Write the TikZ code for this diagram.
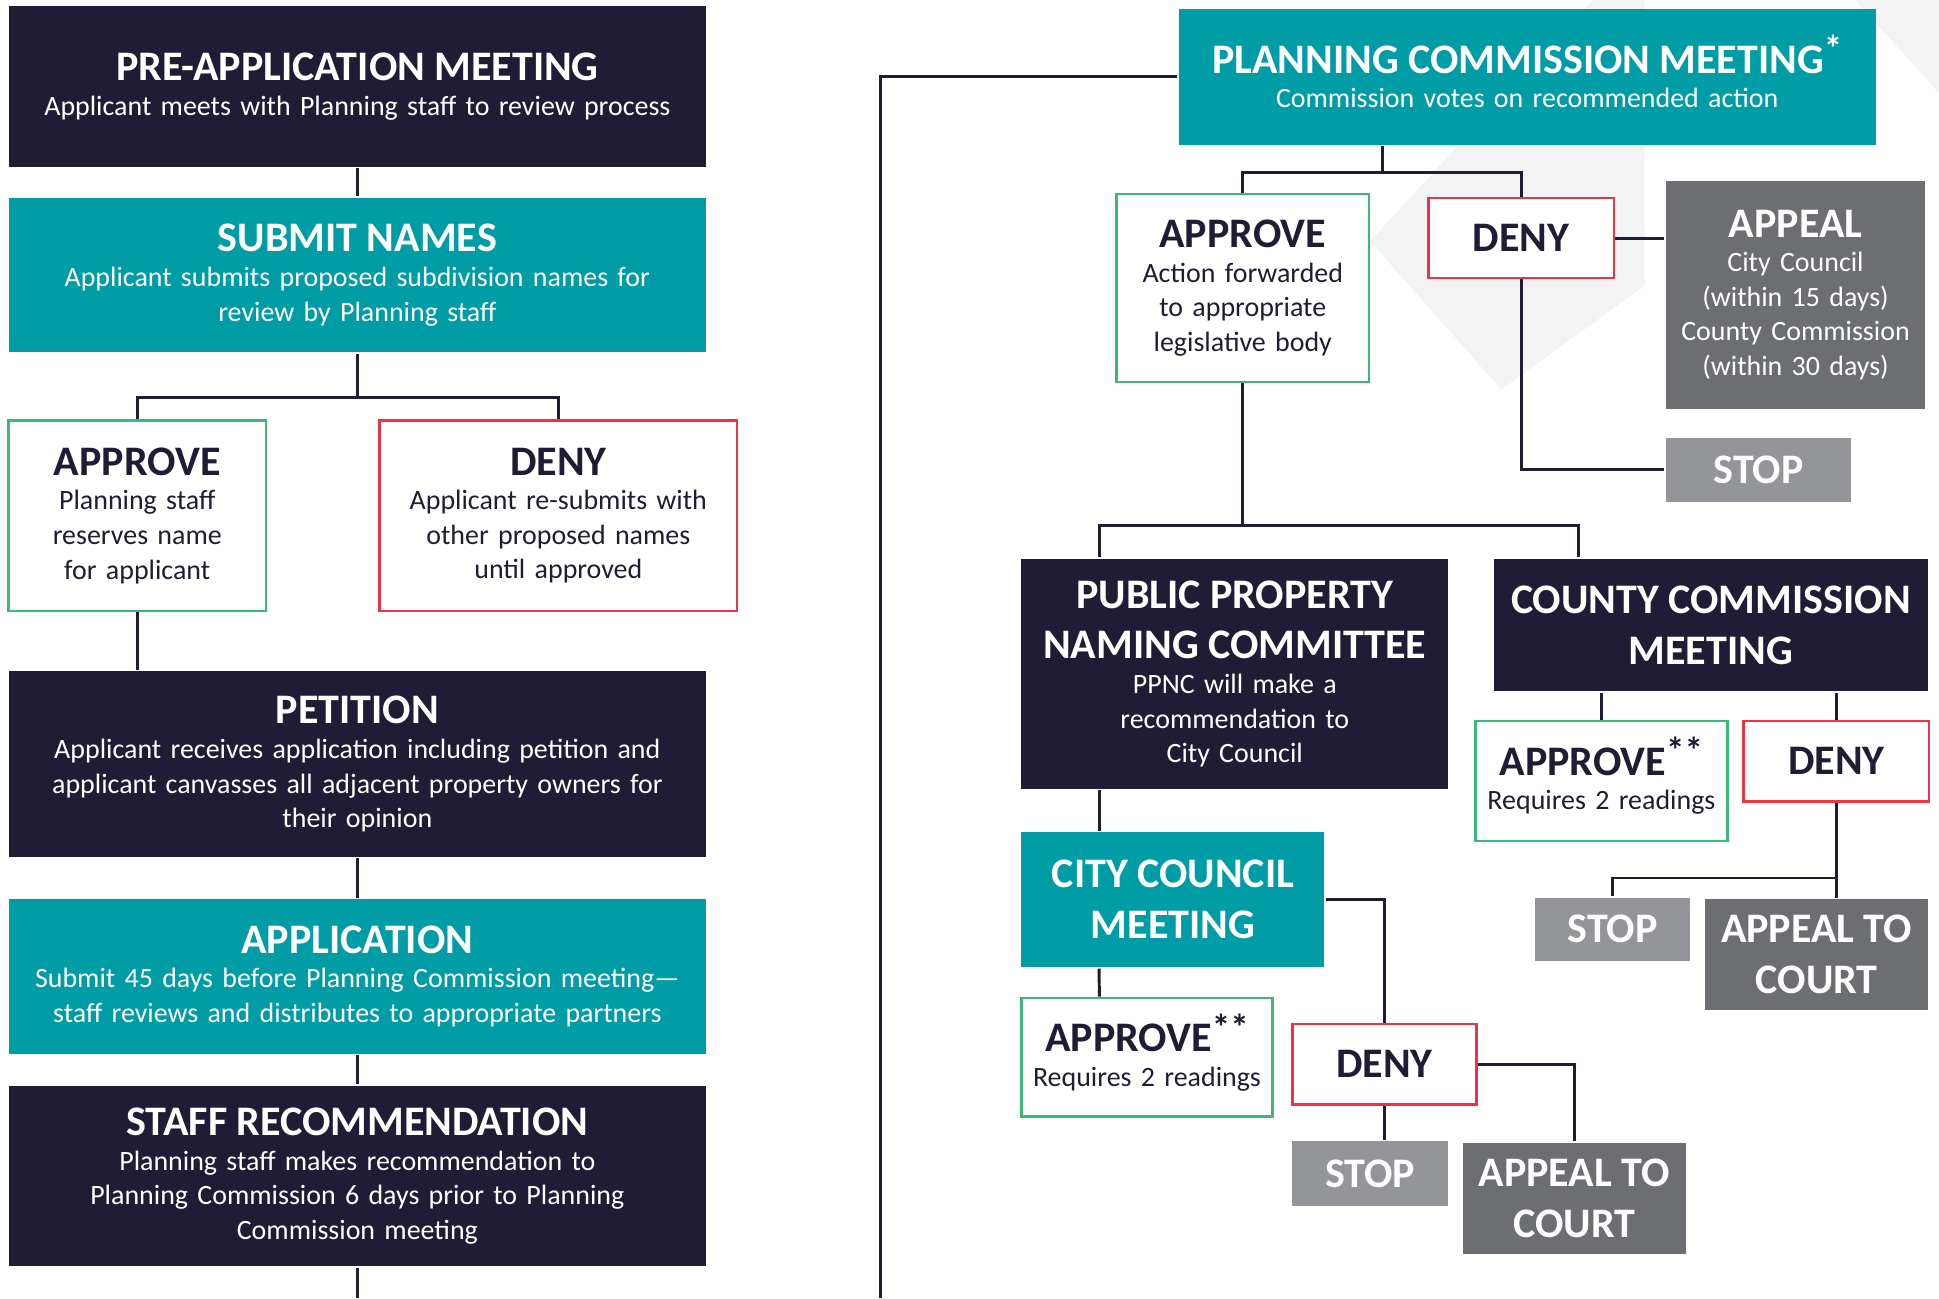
\documentclass[tikz,border=0pt]{standalone}
\usepackage{fontspec}
\setmainfont{Carlito}
\usepackage{tikz}
\setlength{\parindent}{0pt}

\definecolor{navyC}{HTML}{211C35}
\definecolor{tealC}{HTML}{009DA7}
\definecolor{greenC}{HTML}{3DB977}
\definecolor{redC}{HTML}{EE3342}
\definecolor{appealC}{HTML}{6D6E71}
\definecolor{stopC}{HTML}{939598}
\definecolor{markC}{HTML}{F3F3F3}

\newcommand{\boxtitle}{\bfseries\fontsize{34}{41}\selectfont}
\newcommand{\boxtext}{\fontsize{22.6}{28}\selectfont}
\newcommand{\boxstar}[1]{\smash{\raisebox{9pt}{\fontsize{30}{30}\selectfont #1}}}

\tikzset{
	styleBox/.style={rectangle, inner sep=0pt, align=center, font=\boxtext},
	styleSize/.style 2 args={minimum width=#1pt, minimum height=#2pt, text width=#1pt},
	styleDark/.style={styleBox, fill=navyC, text=white},		% 紺の箱
	styleTeal/.style={styleBox, fill=tealC, text=white},		% 青緑の箱
	styleOk/.style={styleBox, draw=greenC, line width=2pt, fill=white, text=navyC},
	styleNo/.style={styleBox, draw=redC, line width=2pt, fill=white, text=navyC},
	styleAppeal/.style={styleBox, fill=appealC, text=white},
	styleStop/.style={styleBox, fill=stopC, text=white},
	styleEdge/.style={draw=navyC, line width=2.4pt}
}

\begin{document}
\begin{tikzpicture}[x=1pt, y=-1pt, line width=2.4pt]

		% 全体の大きさ
		\useasboundingbox (0,0) rectangle (1568,1050);
		\fill[white] (0,0) rectangle (1568,1050);
		% 右上の透かし
		\fill[markC] (1288,0) -- (1108,195) -- (1214,315) -- (1330,231) -- (1330,0) -- cycle;
		\fill[markC] (1500,0) -- (1568,0) -- (1568,75) -- cycle;

		%左の列
		\node[styleDark, styleSize={564}{130}] (preapp) at (289,70)
			{{\boxtitle PRE-APPLICATION MEETING\par}Applicant meets with Planning staff to review process};
		\node[styleTeal, styleSize={564}{125}] (submit) at (289,222.5)
			{{\boxtitle SUBMIT NAMES\par}Applicant submits proposed subdivision names for\\review by Planning staff};
		\node[styleOk, styleSize={208}{154}] (approve1) at (111,417)
			{{\boxtitle APPROVE\par}Planning staff\\reserves name\\for applicant};
		\node[styleNo, styleSize={289}{154}] (deny1) at (451.5,417)
			{{\boxtitle DENY\par}Applicant re-submits with\\other proposed names\\until approved};
		\node[styleDark, styleSize={564}{150}] (petition) at (289,618)
			{{\boxtitle PETITION\par}Applicant receives application including petition and\\applicant canvasses all adjacent property owners for\\their opinion};
		\node[styleTeal, styleSize={564}{125}] (application) at (289,789.5)
			{{\boxtitle APPLICATION\par}Submit 45 days before Planning Commission meeting—\\staff reviews and distributes to appropriate partners};
		\node[styleDark, styleSize={564}{146}] (staffrec) at (289,951)
			{{\boxtitle STAFF RECOMMENDATION\par}Planning staff makes recommendation to\\Planning Commission 6 days prior to Planning\\Commission meeting};

		%右の列
		\node[styleTeal, styleSize={564}{110}] (pcm) at (1235,62)
			{{\boxtitle PLANNING COMMISSION MEETING\boxstar{*}\par}Commission votes on recommended action};
		\node[styleOk, styleSize={204}{152}] (approve2) at (1005,233)
			{{\boxtitle APPROVE\par}Action forwarded\\to appropriate\\legislative body};
		\node[styleNo, styleSize={150}{65}] (deny2) at (1230,192.5) {\boxtitle DENY\par};
		\node[styleAppeal, styleSize={210}{185}] (appeal2) at (1452,238.5)
			{{\boxtitle APPEAL\par}City Council\\(within 15 days)\\County Commission\\(within 30 days)};
		\node[styleStop, styleSize={150}{52}] (stop2) at (1422,380) {\boxtitle STOP\par};
		\node[styleDark, styleSize={345}{186}] (ppnc) at (998.5,545)
			{{\boxtitle PUBLIC PROPERTY\\NAMING COMMITTEE\par}PPNC will make a\\recommendation to\\City Council};
		\node[styleDark, styleSize={351}{107}] (county) at (1383.5,505.5)
			{\boxtitle COUNTY COMMISSION\\MEETING\par};
		\node[styleTeal, styleSize={245}{109}] (cc) at (948.5,727.5)
			{\boxtitle CITY COUNCIL\\MEETING\par};
		\node[styleOk, styleSize={203}{96}] (approve3) at (927.5,855)
			{{\boxtitle APPROVE\boxstar{**}\par}Requires 2 readings};
		\node[styleNo, styleSize={149}{65}] (deny3) at (1119.5,860.5) {\boxtitle DENY\par};
		\node[styleStop, styleSize={126}{52}] (stop3) at (1108,949) {\boxtitle STOP\par};
		\node[styleAppeal, styleSize={180}{90}] (appeal3) at (1273,969)
			{\boxtitle APPEAL TO\\COURT\par};
		\node[styleOk, styleSize={204}{97}] (approve4) at (1295,631.5)
			{{\boxtitle APPROVE\boxstar{**}\par}Requires 2 readings};
		\node[styleNo, styleSize={150}{65}] (deny4) at (1485,615.5) {\boxtitle DENY\par};
		\node[styleStop, styleSize={126}{51}] (stop4) at (1304,751.5) {\boxtitle STOP\par};
		\node[styleAppeal, styleSize={180}{90}] (appeal4) at (1469,772)
			{\boxtitle APPEAL TO\\COURT\par};

		%ループでまっすぐな線を書く
		\foreach \startBoxName/\endBoxName in
			{preapp/submit, petition/application, application/staffrec} {
			\draw[styleEdge] (\startBoxName.south) -- (\endBoxName.north);
		}

		%左の分かれ道
		\draw[styleEdge] (submit.south) -- ++(0,35) coordinate (forkA);
		\draw[styleEdge] (approve1.north) |- (forkA) -| (deny1.north);
		\draw[styleEdge] (approve1.south) -- (approve1.south |- petition.north);
		\coordinate (endL) at (289,1050);	%下の端
		\draw[styleEdge] (staffrec.south) -- (endL);

		%左から右へ
		\coordinate (endM) at (712,1050);
		\draw[styleEdge] (pcm.west) -| (endM);

		%委員会の分かれ道
		\path (pcm.south) ++(-117,21) coordinate (forkB);
		\draw[styleEdge] (pcm.south -| forkB) -- (forkB);
		\draw[styleEdge] (approve2.north) |- (forkB) -| (deny2.north);
		\draw[styleEdge] (deny2.east) -- (deny2.east -| appeal2.west);
		\draw[styleEdge] (deny2.south) |- (stop2.west);

		\draw[styleEdge] (approve2.south) -- ++(0,115) coordinate (forkC);
		\draw[styleEdge] ([xshift=64pt]ppnc.north west) |- (forkC)
			-| ([xshift=70pt]county.north west);

		%市議会
		\draw[styleEdge] ([xshift=64pt]ppnc.south west) -- ([xshift=64pt]cc.north west);
		\draw[styleEdge] ([xshift=64pt]cc.south west) -- ([xshift=64pt]approve3.north west);
		\draw[styleEdge] (cc.east) -| (deny3.north);
		\draw[styleEdge] (deny3.south) -- (deny3.south |- stop3.north);
		\draw[styleEdge] (deny3.east) -| (appeal3.north);

		%郡の委員会
		\draw[styleEdge] (approve4.north |- county.south) -- (approve4.north);
		\draw[styleEdge] (deny4.north |- county.south) -- (deny4.north);
		\draw[styleEdge] (deny4.south) -- (deny4.south |- appeal4.north);
		\path (deny4.south) ++(0,61) coordinate (forkD);
		\draw[styleEdge] (forkD) -| (stop4.north);

\end{tikzpicture}
\end{document}
